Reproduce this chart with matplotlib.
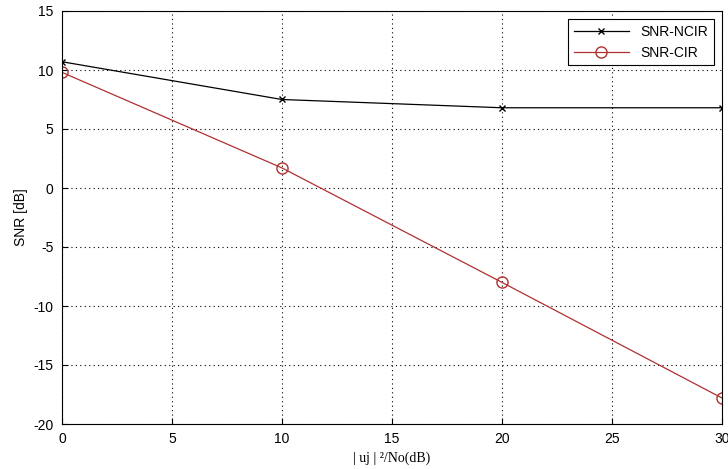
import matplotlib
matplotlib.use("Agg")
import matplotlib.pyplot as plt

x = [0, 10, 20, 30]
snr_ncir = [10.7, 7.5, 6.8, 6.8]
snr_cir = [9.8, 1.7, -8.0, -17.8]

plt.rcParams["font.family"] = ["Liberation Sans", "DejaVu Sans"]
plt.rcParams["axes.unicode_minus"] = False

fig = plt.figure(figsize=(7.28, 4.69), dpi=100)
ax = fig.add_axes([62 / 728, 45 / 469, 660 / 728, 413 / 469])

ax.plot(x, snr_ncir, color="black", marker="x", markersize=4, linewidth=0.9, label="SNR-NCIR")
ax.plot(x, snr_cir, color="#b03030", marker="o", markersize=8, markerfacecolor="none",
        linewidth=0.9, label="SNR-CIR")

ax.set_xlim(0, 30)
ax.set_ylim(-20, 15)
ax.set_xticks(range(0, 31, 5))
ax.set_yticks(range(-20, 16, 5))
ax.tick_params(labelsize=10, direction="in", length=4, pad=6)
ax.grid(True, linestyle=(0, (1, 3)), color="black", linewidth=0.8)

ax.set_ylabel("SNR [dB]", fontsize=10)
ax.set_xlabel("| uj | \u00b2/No(dB)", fontsize=10, family=["Liberation Serif", "DejaVu Serif"])

leg = ax.legend(loc="upper right", fontsize=10, fancybox=False, edgecolor="black", framealpha=1,
                handlelength=4, borderaxespad=0.6)
leg.get_frame().set_linewidth(0.8)

fig.savefig("out.png", dpi=100)
